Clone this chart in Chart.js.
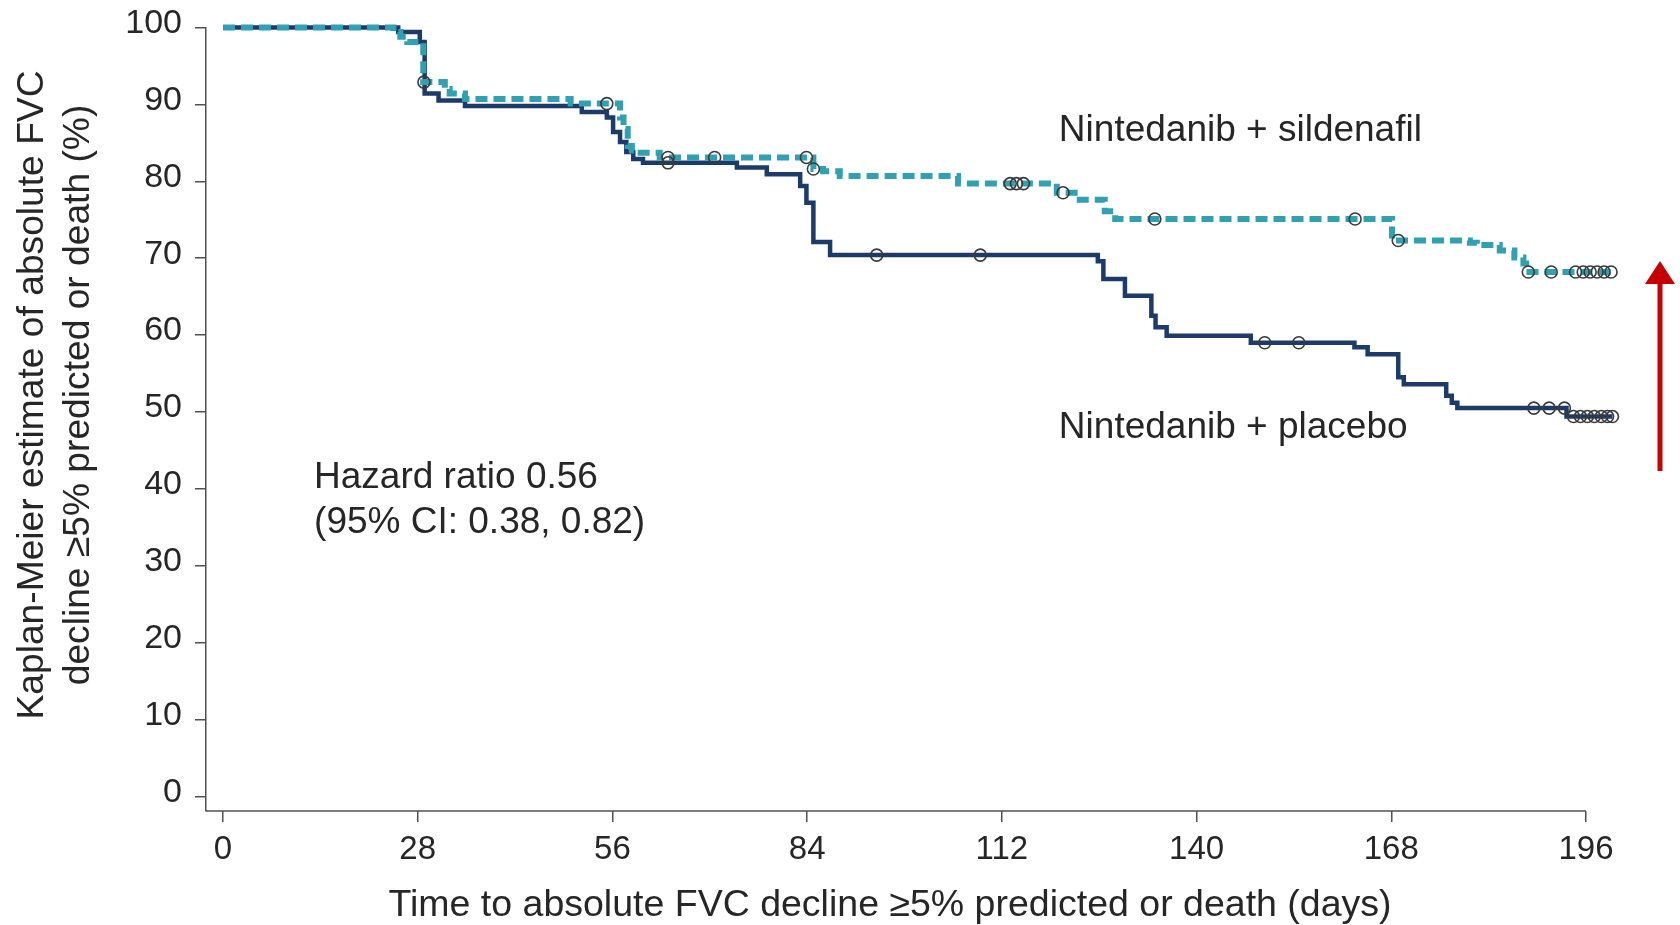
<!DOCTYPE html>
<html>
<head>
<meta charset="utf-8">
<script src="https://cdn.jsdelivr.net/npm/chart.js@4.4.1/dist/chart.umd.min.js"></script>
<style>
  html, body { margin: 0; padding: 0; background: #ffffff; overflow: hidden; }
  canvas { display: block; }
</style>
</head>
<body>
<canvas id="km" width="1680" height="925"></canvas>
<script>
// Kaplan-Meier step points: day at which the estimate changes, and the new estimate (%)
const sildenafilDays   = [0, 24.5, 25.5, 26.5, 28.8, 31.9, 32.6, 34.8, 50.0, 57.1, 57.6, 58.2, 58.8, 59.5, 62.8, 84.9, 86.3, 88.7, 105.7, 119.9, 123.2, 126.8, 128.3, 168.1, 179.3, 180.3, 183.6, 185.7, 187.0, 187.4, 199.7];
const sildenafilValues = [100, 99.4, 98.8, 98.1, 92.9, 92.0, 91.4, 90.7, 90.1, 88.3, 86.8, 84.6, 84.0, 83.7, 83.1, 81.6, 81.3, 80.7, 79.7, 78.5, 77.6, 76.1, 75.1, 72.3, 72.0, 71.7, 71.0, 70.1, 69.3, 68.2, 68.2];

const placeboDays   = [0, 25.2, 28.3, 29.0, 31.0, 34.8, 51.6, 55.2, 56.1, 57.1, 58.0, 59.0, 60.4, 73.9, 78.2, 83.0, 83.9, 84.9, 87.3, 125.8, 126.6, 129.7, 133.5, 134.1, 135.7, 147.8, 162.7, 164.6, 169.0, 169.8, 175.9, 176.7, 177.5, 193.2, 199.8];
const placeboValues = [100, 99.4, 98.1, 91.4, 90.5, 89.8, 89.0, 88.3, 86.4, 85.1, 83.8, 82.9, 82.4, 81.8, 80.9, 79.4, 77.2, 72.1, 70.4, 69.6, 67.3, 65.1, 62.5, 61.0, 59.9, 59.0, 58.4, 57.5, 54.5, 53.6, 52.1, 51.2, 50.5, 49.4, 49.4];

// Censored observations (open circles)
const sildenafilCensorDays   = [28.9, 55.2, 64.0, 70.7, 83.9, 84.9, 113.2, 114.1, 115.1, 120.8, 134.0, 162.8, 169.0, 187.7, 191.0, 194.5, 195.6, 196.6, 197.6, 198.6, 199.6];
const sildenafilCensorValues = [92.9, 90.1, 83.1, 83.1, 83.1, 81.6, 79.7, 79.7, 79.7, 78.5, 75.1, 75.1, 72.3, 68.2, 68.2, 68.2, 68.2, 68.2, 68.2, 68.2, 68.2];
const placeboCensorDays   = [64.0, 94.0, 108.9, 149.8, 154.7, 188.5, 190.7, 192.9, 194.2, 195.2, 196.2, 197.2, 198.2, 199.1, 199.8];
const placeboCensorValues = [82.4, 70.4, 70.4, 59.0, 59.0, 50.5, 50.5, 50.5, 49.4, 49.4, 49.4, 49.4, 49.4, 49.4, 49.4];

const xTickValues = [0, 28, 56, 84, 112, 140, 168, 196];
const yTickValues = [0, 10, 20, 30, 40, 50, 60, 70, 80, 90, 100];

const seriesNames = ['Nintedanib + sildenafil', 'Nintedanib + placebo'];
const xTitle = 'Time to absolute FVC decline \u22655% predicted or death (days)';
const yTitleLines = ['Kaplan-Meier estimate of absolute FVC', 'decline \u22655% predicted or death (%)'];
const hazardLines = ['Hazard ratio 0.56', '(95% CI: 0.38, 0.82)'];

// Label anchors in data units: [day, estimate %]
const sildenafilLabelAt = [120.2, 86.6];
const placeboLabelAt    = [120.2, 47.9];
const hazardLabelAt     = [13.1, 41.5];
const hazardLineGap     = 5.9;

const FONT = '"Liberation Sans", Arial, Helvetica, sans-serif';
const TEXT = '#262626';
const AXIS = '#505050';
const NAVY = '#1c3b6a';
const TEAL = '#31a0b2';

function pts(xs, ys) { return xs.map((x, i) => ({ x: x, y: ys[i] })); }

// Pick a font size so that a string fills a given width
function fitSize(text, width) {
  const c = document.createElement('canvas').getContext('2d');
  c.font = '100px ' + FONT;
  return 100 * width / c.measureText(text).width;
}
const yTitleSize = fitSize(yTitleLines[0], 650);
const xTitleSize = fitSize(xTitle, 1003);

// The day axis line stops at the last labelled tick, while the curves run a little past it
const axisLinePlugin = {
  id: 'dayAxisLine',
  beforeDatasetsDraw(chart) {
    const ctx = chart.ctx, xs = chart.scales.x, area = chart.chartArea;
    ctx.save();
    ctx.strokeStyle = AXIS;
    ctx.lineWidth = 1.5;
    ctx.beginPath();
    ctx.moveTo(area.left, area.bottom);
    ctx.lineTo(xs.getPixelForValue(xTickValues[xTickValues.length - 1]), area.bottom);
    ctx.stroke();
    ctx.restore();
  }
};

const textPlugin = {
  id: 'kmText',
  afterDraw(chart) {
    const ctx = chart.ctx;
    const xs = chart.scales.x, ys = chart.scales.y;
    ctx.save();
    ctx.fillStyle = TEXT;
    ctx.textBaseline = 'middle';

    // axis titles
    ctx.font = yTitleSize.toFixed(1) + 'px ' + FONT;
    ctx.textAlign = 'center';
    [[33, yTitleLines[0]], [79, yTitleLines[1]]].forEach(([cx, t]) => {
      ctx.save();
      ctx.translate(cx, 395);
      ctx.rotate(-Math.PI / 2);
      ctx.fillText(t, 0, 0);
      ctx.restore();
    });
    ctx.font = xTitleSize.toFixed(1) + 'px ' + FONT;
    ctx.fillText(xTitle, 890, 906);

    // series labels and hazard ratio
    ctx.font = '37px ' + FONT;
    ctx.textAlign = 'left';
    ctx.fillText(seriesNames[0], xs.getPixelForValue(sildenafilLabelAt[0]), ys.getPixelForValue(sildenafilLabelAt[1]));
    ctx.fillText(seriesNames[1], xs.getPixelForValue(placeboLabelAt[0]), ys.getPixelForValue(placeboLabelAt[1]));
    ctx.fillText(hazardLines[0], xs.getPixelForValue(hazardLabelAt[0]), ys.getPixelForValue(hazardLabelAt[1]));
    ctx.fillText(hazardLines[1], xs.getPixelForValue(hazardLabelAt[0]), ys.getPixelForValue(hazardLabelAt[1] - hazardLineGap));

    // red upward arrow in the right margin
    ctx.fillStyle = '#c40000';
    ctx.strokeStyle = '#c40000';
    ctx.lineWidth = 5;
    ctx.beginPath();
    ctx.moveTo(1660, 471);
    ctx.lineTo(1660, 280);
    ctx.stroke();
    ctx.beginPath();
    ctx.moveTo(1660, 261);
    ctx.lineTo(1675, 284);
    ctx.lineTo(1645, 284);
    ctx.closePath();
    ctx.fill();
    ctx.restore();
  }
};

const censorStyle = {
  type: 'scatter',
  pointStyle: 'circle',
  pointRadius: 6,
  pointHoverRadius: 6,
  pointBorderWidth: 1.6,
  pointBorderColor: '#3a3a3a',
  pointBackgroundColor: 'rgba(0,0,0,0)',
  showLine: false,
  clip: false,
  order: 0
};

new Chart(document.getElementById('km'), {
  type: 'line',
  data: {
    datasets: [
      Object.assign({ label: seriesNames[0] + ' censored', data: pts(sildenafilCensorDays, sildenafilCensorValues) }, censorStyle),
      Object.assign({ label: seriesNames[1] + ' censored', data: pts(placeboCensorDays, placeboCensorValues) }, censorStyle),
      {
        label: seriesNames[0],
        data: pts(sildenafilDays, sildenafilValues),
        stepped: 'before',
        borderColor: TEAL,
        borderWidth: 6,
        borderDash: [12, 6],
        borderCapStyle: 'butt',
        pointRadius: 0,
        fill: false,
        clip: false,
        order: 1
      },
      {
        label: seriesNames[1],
        data: pts(placeboDays, placeboValues),
        stepped: 'before',
        borderColor: NAVY,
        borderWidth: 4.5,
        pointRadius: 0,
        fill: false,
        clip: false,
        order: 2
      }
    ]
  },
  options: {
    responsive: false,
    devicePixelRatio: 1,
    animation: false,
    events: [],
    layout: { padding: { left: 0, top: 27.5, right: 62.7, bottom: 0 } },
    plugins: { legend: { display: false }, tooltip: { enabled: false } },
    scales: {
      x: {
        type: 'linear',
        min: -2.44,
        max: 200.5,
        afterBuildTicks: s => { s.ticks = xTickValues.map(v => ({ value: v })); },
        afterFit: s => { s.height = 114; },
        ticks: { font: { family: FONT, size: 33 }, color: TEXT, padding: 8, maxRotation: 0, autoSkip: false },
        grid: { drawOnChartArea: false, drawTicks: true, tickLength: 11, color: AXIS, lineWidth: 1.5 },
        border: { display: false },
        title: { display: false }
      },
      y: {
        type: 'linear',
        min: -1.9,
        max: 100,
        afterBuildTicks: s => { s.ticks = yTickValues.map(v => ({ value: v })); },
        afterFit: s => { s.width = 206; },
        ticks: { font: { family: FONT, size: 34, lineHeight: 0.4 }, color: TEXT, padding: 13, labelOffset: -4 },
        grid: { drawOnChartArea: false, drawTicks: true, tickLength: 11, color: AXIS, lineWidth: 1.5 },
        border: { display: true, color: AXIS, width: 1.5 },
        title: { display: false }
      }
    }
  },
  plugins: [axisLinePlugin, textPlugin]
});
</script>
</body>
</html>
